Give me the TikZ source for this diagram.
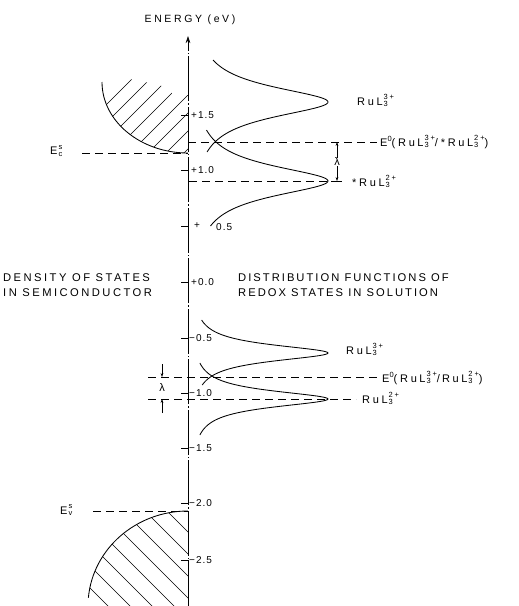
\documentclass[tikz,border=0pt]{standalone}
\usepackage{fontspec}
\setmainfont{Liberation Sans}
\newfontfamily\lblfont{Liberation Sans}[LetterSpace=25]
\newfontfamily\leftfont{Liberation Sans}[LetterSpace=22]
\newfontfamily\rightfont{Liberation Sans}[LetterSpace=18]
\newfontfamily\tickfont{Liberation Sans}[LetterSpace=10]
\usetikzlibrary{arrows.meta}
\newcommand\supsub[2]{\kern1pt\rlap{\raisebox{-1.3pt}{\fontsize{7.5}{8}\selectfont #1}}\raisebox{5.3pt}{\fontsize{7.5}{8}\selectfont #2}}
\newcommand\RuL[1]{Ru\kern2.5pt L\supsub{3}{#1}}
\newcommand\Eo{E\raisebox{4.4pt}{\fontsize{7.5}{8}\selectfont 0}}
\begin{document}
\begin{tikzpicture}[x=1pt,y=-1pt,
  lbl/.style={inner sep=0pt, font=\lblfont\fontsize{11}{12}\selectfont},
  big/.style={inner sep=0pt, anchor=west},
  tick/.style={inner sep=0pt, anchor=west, font=\tickfont\fontsize{10}{12}\selectfont},
  dline/.style={line width=0.75pt, dash pattern=on 8pt off 5pt},
  curve/.style={line width=0.85pt},
  hatch/.style={line width=0.6pt},
  tickmark/.style={line width=0.6pt},
  axisline/.style={line width=0.6pt, dash pattern=on 45pt off 2pt on 1.5pt off 2pt},
  dim/.style={line width=0.6pt, -{Stealth[length=4pt,width=2.8pt]}}]
\useasboundingbox (0,0) rectangle (519,606);

% ---- energy axis ----
\coordinate (axbot) at (188,606);
\coordinate (axtop) at (188,36);
\draw[axisline,-{Stealth[length=7pt,width=4.5pt]}] (axbot) -- (axtop);
\node[big, anchor=center, font=\lblfont\fontsize{10.5}{12}\selectfont] (energy) at (190,20) {ENERGY (eV)};

% ticks
\foreach \y in {115,170,226,282,338,393,448,503,560}
  \draw[tickmark] (181,\y) -- (189,\y);
\node[tick] (l15) at (191,115) {+1.5};
\node[tick] (l10) at (191,170) {+1.0};
\node[tick] (lp05) at (194,226) {+};
\node[tick] (l05) at (216,227) {0.5};
\node[tick] (l00) at (191,282) {+0.0};
\node[tick] (lm05) at (189,338) {−0.5};
\node[tick] (lm10) at (189,393) {−1.0};
\node[tick] (lm15) at (189,448) {−1.5};
\node[tick] (lm20) at (189,503) {−2.0};
\node[tick] (lm25) at (189,560) {−2.5};

% ---- conduction band of semiconductor ----
\begin{scope}
  \clip (188,153) arc[start angle=90, end angle=180, x radius=86, y radius=71]
        -- (130,79) -- (160,85) -- (175,95) -- (188,95) -- cycle;
  \foreach \c in {211,229,...,337} \draw[hatch] ({\c-160},160) -- ({\c-70},70);
\end{scope}
\draw[curve] (188,153) arc[start angle=90, end angle=180, x radius=86, y radius=71];
\node[lbl, anchor=west] (ec) at (50,151) {E\supsub{c}{s}};
\coordinate (ecL) at (82,153);
\coordinate (ecR) at (188,153);
\draw[dline] (ecL) -- (ecR);

% ---- valence band of semiconductor ----
\begin{scope}
  \clip (188,511) arc[start angle=-90, end angle=-180, x radius=100, y radius=95]
        -- (188,606) -- cycle;
  \foreach \c in {-344,-366,...,-520} \draw[hatch] ({\c+490},490) -- ({\c+610},610);
\end{scope}
\draw[curve] (188,511) arc[start angle=-90, end angle=-175, x radius=100, y radius=95];
\node[lbl, anchor=west] (ev) at (60,510) {E\supsub{v}{s}};
\coordinate (evL) at (93,511);
\coordinate (evR) at (188,511);
\draw[dline] (evL) -- (evR);

% ---- excited-state couple ----
\draw[curve] plot[domain=-42:50,samples=140] ({190+138/(1+(\x/18.8)*(\x/18.8))},{102+\x});
\draw[curve] plot[domain=-51:45,samples=140] ({190+138/(1+(\x/18.8)*(\x/18.8))},{181+\x});
\node[lbl, anchor=base west] (ox1) at (357,105) {\RuL{3+}};
\node[lbl, anchor=base west] (e0u) at (380,146) {\Eo(\RuL{3+}/*\RuL{2+})};
\node[lbl, anchor=base west] (red1) at (352,186) {*\RuL{2+}};
\coordinate (e0uL) at (188,142);
\coordinate (e0uR) at (377,142);
\draw[dline] (e0uL) -- (e0uR);
\coordinate (red1L) at (189,181);
\coordinate (red1R) at (328,181);
\draw[dline] (red1L) -- (red1R);
\node[lbl, anchor=center] (lamU) at (337,162) {λ};
\coordinate (lamUt) at (337,142);
\coordinate (lamUb) at (337,181);
\draw[dim] (lamU.north) -- (lamUt);
\draw[dim] (lamU.south) -- (lamUb);
\coordinate (lamUb1) at (331,181);
\coordinate (lamUb2) at (342,181);
\draw[tickmark] (lamUb1) -- (lamUb2);

% ---- ground-state couple ----
\draw[curve] plot[domain=-33:32,samples=140] ({190+138/(1+(\x/10)*(\x/10))},{353+\x});
\draw[curve] plot[domain=-36:36,samples=140] ({190+138/(1+(\x/10)*(\x/10))},{399+\x});
\node[lbl, anchor=base west] (ox2) at (346,354) {\RuL{3+}};
\node[lbl, anchor=base west] (e0l) at (382,382) {\Eo(\RuL{3+}/\kern2pt\RuL{2+})};
\node[lbl, anchor=base west] (red2) at (362,403) {\RuL{2+}};
\coordinate (e0lL) at (148,377);
\coordinate (e0lR) at (378,377);
\draw[dline] (e0lL) -- (e0lR);
\coordinate (red2L) at (148,399);
\coordinate (red2R) at (356,399);
\draw[dline] (red2L) -- (red2R);
\node[lbl, anchor=center] (lamL) at (162,388) {λ};
\coordinate (lamLt) at (162,377);
\coordinate (lamLb) at (162,399);
\coordinate (lamLts) at (162,364);
\coordinate (lamLbs) at (162,413);
\draw[dim] (lamLts) -- (lamLt);
\draw[dim] (lamLbs) -- (lamLb);

% ---- captions ----
\node[big, font=\leftfont\fontsize{11.2}{12}\selectfont] (dos1) at (3,278) {DENSITY OF STATES};
\node[big, font=\leftfont\fontsize{11.2}{12}\selectfont] (dos2) at (3,293) {IN SEMICONDUCTOR};
\node[big, font=\rightfont\fontsize{11.2}{12}\selectfont] (dist1) at (238,278) {DISTRIBUTION FUNCTIONS OF};
\node[big, font=\rightfont\fontsize{11.2}{12}\selectfont] (dist2) at (238,293) {REDOX STATES IN SOLUTION};
\end{tikzpicture}
\end{document}
